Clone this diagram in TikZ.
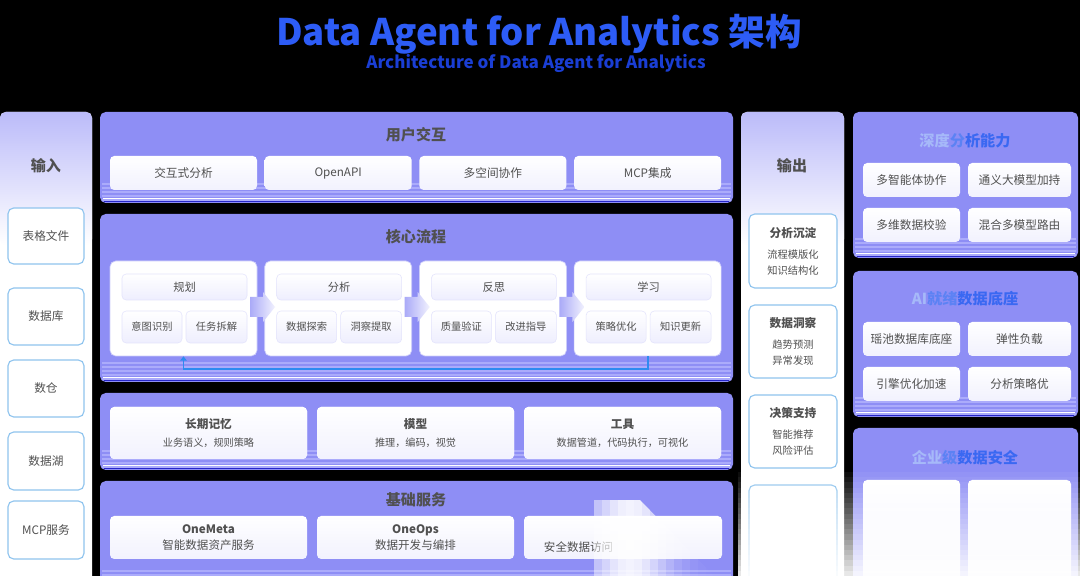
\documentclass[tikz,border=0pt]{standalone}
\usepackage{fontspec}
\setmainfont{Noto Sans CJK SC}
\usetikzlibrary{arrows.meta}
\definecolor{cpanel}{HTML}{8E8EF5}
\definecolor{cstripe}{HTML}{ABABFB}
\definecolor{cedge}{HTML}{2727C9}
\definecolor{ctext}{HTML}{505050}
\definecolor{ctitle}{HTML}{2D5CF6}
\definecolor{csub}{HTML}{1A3ED4}
\definecolor{cloop}{HTML}{2E8BF0}
\definecolor{cframe}{HTML}{8FC4EE}
\definecolor{clight}{HTML}{A6B9F9}
\definecolor{cmid}{HTML}{5C82F4}
\definecolor{cdeep}{HTML}{3A68F2}
\tikzset{
  panel/.style={fill=cpanel, rounded corners=4pt},
  ptitle/.style={font=\bfseries\fontsize{10.7}{12}\selectfont, text=ctext},
  card/.style={top color=white, bottom color=cpanel!12, rounded corners=3pt, align=center, inner sep=0pt,
    text=ctext, font=\fontsize{8.3}{10}\selectfont},
  inbox/.style={draw=cframe, line width=0.8pt, fill=white, rounded corners=4pt, align=center, inner sep=0pt,
    text=ctext, font=\fontsize{8.3}{10}\selectfont},
  stage/.style={fill=white, draw=cpanel!45, line width=0.5pt, rounded corners=4pt},
  pill/.style={draw=cpanel!25, line width=0.4pt, top color=white, bottom color=cpanel!15, rounded corners=3pt,
    inner sep=0pt, text=ctext, font=\fontsize{7.3}{9}\selectfont},
  chev/.style={left color=cpanel!75, right color=cpanel!12},
  feedback/.style={draw=cloop, line width=1.3pt, -{Triangle[length=3pt, width=4.5pt]}},
  rtitle/.style={font=\bfseries\fontsize{10.8}{12}\selectfont},
}
\newcommand{\blk}[7]{% name, x1, y1, x2, y2, style, text
  \node[#6, minimum width={((#4)-(#2))*0.025cm}, minimum height={((#5)-(#3))*0.025cm}] (#1)
    at ({((#2)+(#4))/2},{((#3)+(#5))/2}) {#7};
}
\newcommand{\panel}[4]{% x1, y1, x2, y2
  \fill[panel] (#1,#2) rectangle (#3,#4);
  \foreach \k in {3,7,11,15,19}
    \draw[cstripe, line width=0.8pt] (#1+2,#4-\k) -- (#3-2,#4-\k);
  \draw[white, line width=1pt] (#1+3,#4-4.5) -- (#3-3,#4-4.5);
  \draw[cedge, line width=1.4pt] (#1+4,#4-1.5) -- (#3-4,#4-1.5);
}

\begin{document}
\begin{tikzpicture}[x=0.025cm, y=-0.025cm]
  \fill[black] (0,0) rectangle (1080,576);
  \useasboundingbox (0,0) rectangle (1080,576);
  % title
  \node[font=\bfseries\fontsize{26}{30}\selectfont, text=ctitle] (title) at (539,34) {Data Agent for Analytics 架构};
  \node[font=\bfseries\fontsize{12.1}{14}\selectfont, text=csub] (subtitle) at (536,63) {Architecture of Data Agent for Analytics};

  % input column
  \fill[white, rounded corners=4pt] (0,112) rectangle (92,590);
  \shade[top color=cpanel!60, bottom color=white, rounded corners=4pt] (0,112) rectangle (92,245);
  \node[ptitle] (in) at (46,166) {输入};
  \foreach \t/\a/\b [count=\i] in {表格文件/208/264, 数据库/288/345, 数仓/360/417, 数据湖/432/490, MCP服务/501/559}
    \blk{in\i}{8}{\a}{84}{\b}{inbox}{\t};

  % user interaction
  \panel{100}{112}{733}{203}
  \node[ptitle] (ui) at (416,135) {用户交互};
  \foreach \t [count=\i] in {交互式分析, OpenAPI, 多空间协作, MCP集成}
    \blk{ui\i}{110+(\i-1)*154.7}{156}{257+(\i-1)*154.7}{190}{card}{\t};

  % core process
  \panel{100}{214}{733}{382}
  \node[ptitle] (core) at (416,237) {核心流程};
  \foreach \h/\l/\r [count=\i] in {规划/意图识别/任务拆解, 分析/数据探索/洞察提取, 反思/质量验证/改进指导, 学习/策略优化/知识更新} {
    \pgfmathsetmacro{\xa}{110+(\i-1)*154.7}
    \blk{st\i}{\xa}{261}{\xa+147}{356}{stage}{}
    \blk{st\i-h}{\xa+12}{274}{\xa+137}{300}{pill, font=\fontsize{8}{10}\selectfont}{\h}
    \blk{st\i-l}{\xa+12}{311}{\xa+72}{343}{pill}{\l}
    \blk{st\i-r}{\xa+76}{311}{\xa+137}{343}{pill}{\r}
  }
  \foreach \i in {1,2,3} {
    \pgfmathsetmacro{\xc}{250+(\i-1)*154.7}
    \shade[chev] (\xc,297) -- (\xc+13,297) -- (\xc+13,292) -- (\xc+25,307) -- (\xc+13,322)
      -- (\xc+13,317) -- (\xc,317) -- cycle;
  }
  \draw[feedback] (st4.south) -- ++(0,13) -| (st1.south);

  % memory, model, tools
  \panel{100}{393}{733}{470}
  \foreach \h/\s [count=\i] in {长期记忆/业务语义，规则策略, 模型/推理，编码，视觉, 工具/数据管道，代码执行，可视化}
    \blk{mem\i}{110+(\i-1)*207}{407}{307+(\i-1)*207}{459}{card, fill=white}
      {{\bfseries\fontsize{8.3}{10}\selectfont \h}\\[3pt]{\fontsize{7.2}{9}\selectfont \s}};

  % base services
  \panel{100}{481}{733}{590}
  \node[ptitle] (base) at (416,500) {基础服务};
  \foreach \h/\s [count=\i] in {OneMeta/智能数据资产服务, OneOps/数据开发与编排}
    \blk{bs\i}{110+(\i-1)*207}{516}{307+(\i-1)*207}{559}{card}
      {{\bfseries\fontsize{8.3}{10}\selectfont \h}\\[1pt]{\fontsize{8.2}{10}\selectfont \s}};
  \blk{bs3}{524}{516}{722}{559}{card}{}
  \node[anchor=west, text=ctext, font=\fontsize{8.2}{10}\selectfont] (bs3t) at (539,547) {安全数据访问};

  % output column
  \fill[white, rounded corners=4pt] (741,112) rectangle (844,590);
  \shade[top color=cpanel!60, bottom color=white, rounded corners=4pt] (741,112) rectangle (844,245);
  \node[ptitle] (out) at (792,166) {输出};
  \foreach \h/\l/\r/\a/\b [count=\i] in {分析沉淀/流程模版化/知识结构化/214/288, 数据洞察/趋势预测/异常发现/305/378, 决策支持/智能推荐/风险评估/395/468}
    \blk{out\i}{749}{\a}{837}{\b}{inbox, font=\fontsize{7.3}{11.4}\selectfont}
      {{\bfseries\fontsize{8.3}{10}\selectfont \h}\\[3.6pt]\l\\\r};
  \blk{out4}{749}{485}{837}{600}{inbox}{}

  % right column
  \panel{853}{112}{1078}{258}
  \node[rtitle] (deep) at (965,141) {\textcolor{clight}{深度}\textcolor{cmid}{分}\textcolor{cdeep}{析能力}};
  \panel{853}{271}{1078}{417}
  \node[rtitle] (aidb) at (965,299) {\textcolor{clight}{AI}\textcolor{cmid}{就绪}\textcolor{cdeep}{数据底座}};
  \panel{853}{428}{1078}{600}
  \node[rtitle] (sec) at (965,458) {\textcolor{clight}{企业}\textcolor{cmid}{级}\textcolor{cdeep}{数据安全}};
  \foreach \l/\r [count=\i] in {多智能体协作/通义大模型加持, 多维数据校验/混合多模型路由} {
    \blk{da\i l}{863}{163+(\i-1)*45}{960}{197+(\i-1)*45}{card}{\l}
    \blk{da\i r}{968}{163+(\i-1)*45}{1071}{197+(\i-1)*45}{card}{\r}
  }
  \foreach \l/\r [count=\i] in {瑶池数据库底座/弹性负载, 引擎优化加速/分析策略优} {
    \blk{ai\i l}{863}{322+(\i-1)*45}{960}{356+(\i-1)*45}{card}{\l}
    \blk{ai\i r}{968}{322+(\i-1)*45}{1071}{356+(\i-1)*45}{card}{\r}
  }
  \blk{se1}{863}{480}{960}{600}{card}{}
  \blk{se2}{968}{480}{1071}{600}{card}{}

  % washed-out corner
  \foreach \k in {0,...,19}
    \fill[white, opacity={0.05+0.045*\k}] (738,472+\k*5.2) rectangle (1080,477.2+\k*5.2);
  \begin{scope}
    \clip (594,500) -- (640,500) -- (718,580) -- (594,580) -- cycle;
    \foreach \k in {0,...,15} {
      \pgfmathsetmacro{\op}{0.9*exp(-((\k-4)/5)^2)}
      \fill[white, opacity=\op] (594+\k*8,500) rectangle (602+\k*8,580);
    }
  \end{scope}
\end{tikzpicture}
\end{document}
